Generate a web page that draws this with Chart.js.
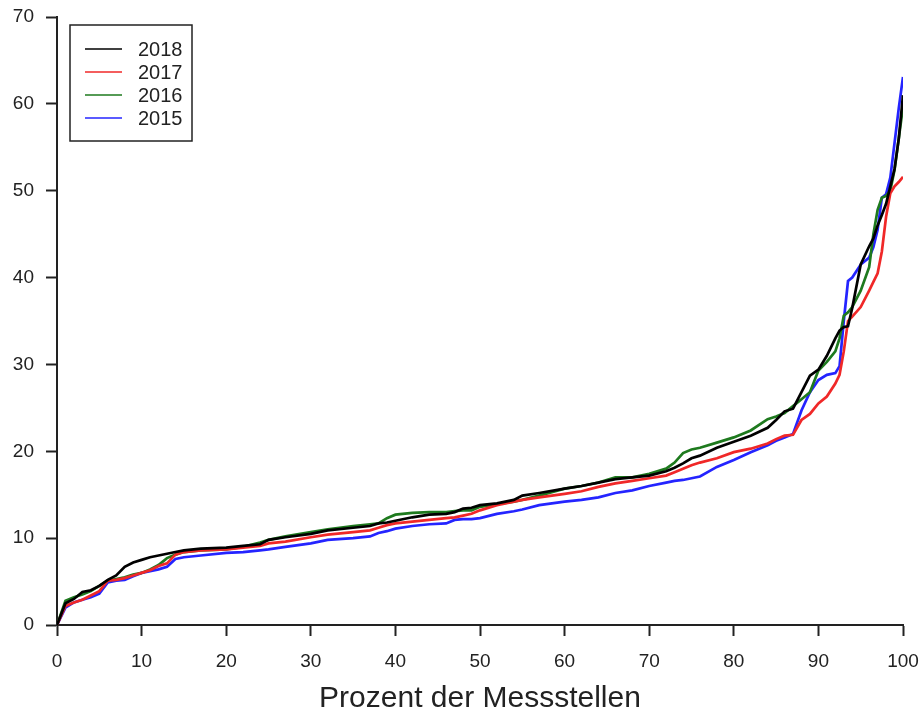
<!DOCTYPE html>
<html>
<head>
<meta charset="utf-8">
<script src="https://cdn.jsdelivr.net/npm/chart.js@4"></script>
<style>
  html, body { margin: 0; padding: 0; background: #fff; }
  #wrap { width: 921px; height: 719px; }
</style>
</head>
<body>
<div id="wrap"><canvas id="cdfChart"></canvas></div>
<script>
// Prozent der Messstellen (x positions shared by all years)
const pct = [0, 1, 2, 3, 4, 5, 6, 7, 8, 9, 10, 11, 12, 13, 14, 15, 17, 20, 22, 24, 25, 27, 30, 32, 35, 37, 38, 39, 40, 42, 44, 46, 47, 48, 49, 50, 52, 54, 55, 57, 60, 62, 64, 66, 68, 70, 72, 73, 74, 75, 76, 78, 80, 82, 84, 85, 86, 87, 88, 89, 90, 91, 92, 92.5, 93, 93.5, 94, 95, 96, 96.5, 97, 97.5, 98, 98.5, 99, 99.5, 100];

const v2018 = [0, 2.5, 3.0, 3.8, 4.0, 4.5, 5.2, 5.7, 6.7, 7.2, 7.5, 7.8, 8.0, 8.2, 8.4, 8.6, 8.8, 8.9, 9.1, 9.3, 9.8, 10.1, 10.5, 10.9, 11.2, 11.4, 11.7, 11.8, 12.0, 12.4, 12.7, 12.8, 13.0, 13.4, 13.5, 13.8, 14.0, 14.4, 14.9, 15.2, 15.7, 16.0, 16.4, 16.8, 17.0, 17.2, 17.7, 18.1, 18.6, 19.2, 19.5, 20.4, 21.1, 21.8, 22.7, 23.6, 24.6, 24.9, 26.8, 28.7, 29.4, 31.0, 33.0, 33.9, 34.3, 34.4, 36.5, 41.5, 43.6, 44.5, 46.0, 47.2, 48.5, 50.5, 52.5, 56.0, 61.0];
const v2017 = [0, 2.2, 2.6, 2.9, 3.4, 3.9, 5.1, 5.2, 5.4, 5.7, 6.0, 6.3, 6.8, 7.1, 8.1, 8.4, 8.6, 8.7, 8.9, 9.1, 9.4, 9.6, 10.1, 10.4, 10.7, 10.9, 11.2, 11.5, 11.7, 11.9, 12.1, 12.3, 12.4, 12.6, 12.8, 13.2, 13.8, 14.2, 14.4, 14.7, 15.1, 15.4, 15.9, 16.3, 16.6, 16.9, 17.2, 17.6, 18.0, 18.4, 18.7, 19.2, 19.9, 20.3, 20.9, 21.4, 21.8, 21.9, 23.6, 24.3, 25.5, 26.3, 27.8, 28.8, 31.5, 35.0, 35.5, 36.6, 38.5, 39.5, 40.5, 43.0, 47.0, 49.7, 50.5, 51.0, 51.6];
const v2016 = [0, 2.8, 3.2, 3.5, 3.9, 4.5, 5.1, 5.3, 5.5, 5.8, 6.0, 6.4, 6.9, 7.7, 8.1, 8.4, 8.6, 8.7, 9.0, 9.5, 9.8, 10.2, 10.7, 11.0, 11.4, 11.6, 11.7, 12.3, 12.7, 12.9, 13.0, 13.0, 13.1, 13.2, 13.2, 13.6, 13.9, 14.2, 14.4, 14.9, 15.7, 16.0, 16.4, 17.0, 17.0, 17.4, 18.0, 18.7, 19.8, 20.2, 20.4, 21.0, 21.6, 22.4, 23.7, 24.0, 24.4, 25.2, 26.0, 26.8, 29.3, 30.3, 31.5, 33.0, 35.6, 36.0, 36.6, 38.5, 41.2, 45.0, 47.8, 49.2, 49.4, 50.0, 52.4, 56.0, 59.7];
const v2015 = [0, 2.0, 2.6, 2.9, 3.2, 3.6, 4.9, 5.1, 5.2, 5.6, 6.0, 6.2, 6.4, 6.7, 7.6, 7.8, 8.0, 8.3, 8.4, 8.6, 8.7, 9.0, 9.4, 9.8, 10.0, 10.2, 10.6, 10.8, 11.1, 11.4, 11.6, 11.7, 12.1, 12.2, 12.2, 12.3, 12.8, 13.1, 13.3, 13.8, 14.2, 14.4, 14.7, 15.2, 15.5, 16.0, 16.4, 16.6, 16.7, 16.9, 17.1, 18.2, 19.0, 19.9, 20.7, 21.2, 21.6, 22.0, 24.7, 26.8, 28.2, 28.8, 29.0, 29.8, 35.0, 39.6, 40.0, 41.5, 42.3, 43.5, 45.5, 49.2, 49.6, 51.5, 55.5, 59.5, 63.1];

const years = ["2018", "2017", "2016", "2015"];
const colors = ["#000000", "#f02828", "#1e7a1e", "#2424ff"];
const yTicks = [0, 10, 20, 30, 40, 50, 60, 70];
const xTicks = [0, 10, 20, 30, 40, 50, 60, 70, 80, 90, 100];

const series = [v2018, v2017, v2016, v2015];
const textColor = "#222";
const fontFamily = "'Liberation Sans', Arial, sans-serif";

// legend with a frame, drawn inside the plot area (top left)
const boxLegend = {
  id: "boxLegend",
  afterDatasetsDraw(chart) {
    const { ctx, chartArea } = chart;
    const x0 = chartArea.left + 13;
    const y0 = chartArea.top + 8;
    ctx.save();
    ctx.fillStyle = "#fff";
    ctx.fillRect(x0, y0, 122, 116);
    ctx.strokeStyle = "#222";
    ctx.lineWidth = 1.5;
    ctx.strokeRect(x0, y0, 122, 116);
    ctx.font = "20px " + fontFamily;
    ctx.textBaseline = "middle";
    chart.data.datasets.forEach((ds, i) => {
      const y = y0 + 24 + i * 23;
      ctx.strokeStyle = ds.borderColor;
      ctx.lineWidth = 1.5;
      ctx.beginPath();
      ctx.moveTo(x0 + 15, y);
      ctx.lineTo(x0 + 52, y);
      ctx.stroke();
      ctx.fillStyle = textColor;
      ctx.fillText(ds.label, x0 + 68, y + 1);
    });
    ctx.restore();
  },
};

const ctx = document.getElementById("cdfChart").getContext("2d");

const chart = new Chart(ctx, {
  type: "line",
  data: {
    datasets: years.map((yr, i) => ({
      label: yr,
      data: pct.map((p, j) => ({ x: p, y: series[i][j] })),
      borderColor: colors[i],
      backgroundColor: colors[i],
      borderWidth: 2.7,
      pointRadius: 0,
      tension: 0,
      fill: false,
    })),
  },
  options: {
    responsive: true,
    maintainAspectRatio: false,
    animation: false,
    layout: {
      padding: { top: 17, right: 18, left: 0, bottom: 0 },
    },
    scales: {
      x: {
        type: "linear",
        min: 0,
        max: 100,
        afterBuildTicks: (s) => { s.ticks = xTicks.map((v) => ({ value: v })); },
        afterFit: (s) => {
          s.height = 94;
          s.paddingLeft = 0;
          s.paddingRight = 0;
        },
        ticks: {
          color: textColor,
          padding: 14,
          font: { family: fontFamily, size: 19 },
        },
        grid: {
          display: true,
          drawOnChartArea: false,
          drawTicks: true,
          tickLength: 11,
          tickWidth: 2,
          tickColor: "#222",
        },
        border: { display: true, color: "#222", width: 2 },
        title: {
          display: true,
          text: "Prozent der Messstellen",
          color: textColor,
          font: { family: fontFamily, size: 30 },
          padding: { top: 4, bottom: 2 },
        },
      },
      y: {
        min: 0,
        max: 70,
        afterBuildTicks: (s) => { s.ticks = yTicks.map((v) => ({ value: v })); },
        afterFit: (s) => {
          s.width = 57;
          s.paddingTop = 0;
          s.paddingBottom = 0;
        },
        ticks: {
          color: textColor,
          padding: 12,
          font: { family: fontFamily, size: 19 },
        },
        grid: {
          display: true,
          drawOnChartArea: false,
          drawTicks: true,
          tickLength: 11,
          tickWidth: 2,
          tickColor: "#222",
        },
        border: { display: true, color: "#222", width: 2 },
      },
    },
    plugins: {
      legend: { display: false },
      tooltip: { enabled: false },
    },
  },
  plugins: [boxLegend],
});
</script>
</body>
</html>
